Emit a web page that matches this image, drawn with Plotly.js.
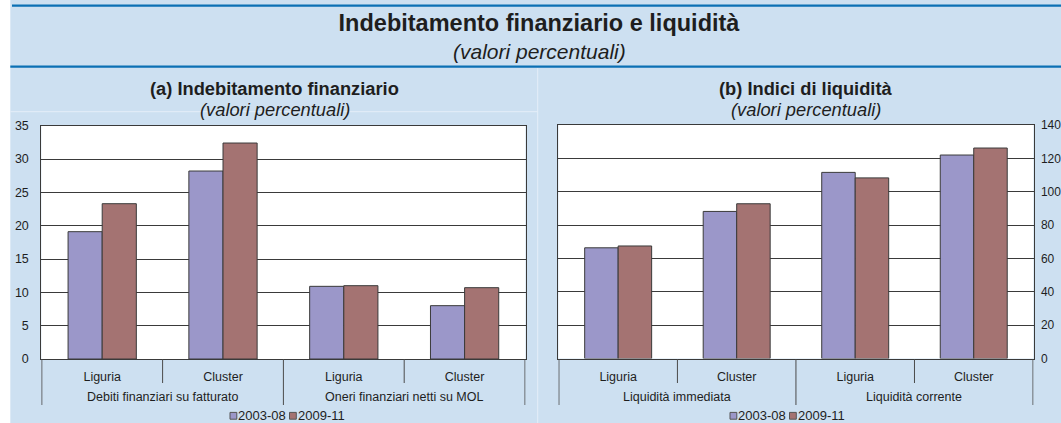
<!DOCTYPE html>
<html><head><meta charset="utf-8">
<script src="https://cdn.plot.ly/plotly-3.0.1.min.js"></script>
<style>html,body{margin:0;padding:0;background:#fff;overflow:hidden;}#chart{width:1061px;height:423px;}</style>
</head><body><div id="chart"></div>
<script>
// ---- data ----
const mainTitle = "Indebitamento finanziario e liquidità";
const mainSubtitle = "(valori percentuali)";
const titleA = "(a) Indebitamento finanziario";
const titleB = "(b) Indici di liquidità";
const panelSubtitle = "(valori percentuali)";
const seriesNames = ["2003-08", "2009-11"];
const subCategories = ["Liguria", "Cluster"];
const groupsA = ["Debiti finanziari su fatturato", "Oneri finanziari netti su MOL"];
const groupsB = ["Liquidità immediata", "Liquidità corrente"];
const a2003 = [19.1, 28.2, 10.9, 8.0];
const a2009 = [23.3, 32.4, 11.0, 10.7];
const b2003 = [66.4, 88.2, 111.6, 122.0];
const b2009 = [67.5, 92.8, 108.3, 126.2];
const yTicksA = [0, 5, 10, 15, 20, 25, 30, 35];
const yTicksB = [0, 20, 40, 60, 80, 100, 120, 140];

// ---- styling ----
const W = 1061, H = 423;
const px = v => v / W, py = v => 1 - v / H;
const FONT = "Liberation Sans, Arial, sans-serif";
const TXT = "#1e1e1e";
const BG = "#cde0f1";
const COLORS = ["#9b97c9", "#a47372"];
const LINE = "#3a3a3a";

function keys(groups) {
  const k = [];
  groups.forEach(g => subCategories.forEach(s => k.push(g + "|" + s)));
  return k;
}
function labels(groups) {
  const t = [];
  groups.forEach(() => subCategories.forEach(s => t.push(s)));
  return t;
}
const kA = keys(groupsA), kB = keys(groupsB);

function bar(x, y, i, xa, ya) {
  return {type: "bar", x: x, y: y, name: seriesNames[i], xaxis: xa, yaxis: ya, showlegend: false,
    marker: {color: COLORS[i], line: {color: LINE, width: 1}}, hoverinfo: "y"};
}
const traces = [
  bar(kA, a2003, 0, "x", "y"), bar(kA, a2009, 1, "x", "y"),
  bar(kB, b2003, 0, "x2", "y2"), bar(kB, b2009, 1, "x2", "y2")
];

const xAxisBase = {
  type: "category", showgrid: false, zeroline: false, showline: true, mirror: true,
  linecolor: LINE, linewidth: 1, ticks: "", tickfont: {family: FONT, size: 12.5, color: TXT},
  ticklabelstandoff: 6, fixedrange: true
};
const yAxisBase = {
  zeroline: false, showline: true, mirror: true, linecolor: LINE, linewidth: 1,
  showgrid: true, gridcolor: LINE, gridwidth: 1, ticks: "",
  tickfont: {family: FONT, size: 12.5, color: TXT}, ticklabelstandoff: 9, fixedrange: true
};

const shapes = [];
// white strip at the very left
shapes.push({type: "rect", xref: "paper", yref: "paper", x0: 0, x1: px(10.3), y0: 0, y1: 1,
  fillcolor: "#ffffff", line: {width: 0}, layer: "below"});
// blue rules
shapes.push({type: "line", xref: "paper", yref: "paper", x0: px(12), x1: 1, y0: py(5.7), y1: py(5.7),
  line: {color: "#0b70b4", width: 2.2}});
shapes.push({type: "line", xref: "paper", yref: "paper", x0: px(10.3), x1: 1, y0: py(66.7), y1: py(66.7),
  line: {color: "#0b70b4", width: 2.2}});
// faint panel frame lines
shapes.push({type: "line", xref: "paper", yref: "paper", x0: px(10.3), x1: px(537.7), y0: py(111.7), y1: py(111.7),
  line: {color: "#e4eef8", width: 1}, layer: "below"});
shapes.push({type: "line", xref: "paper", yref: "paper", x0: px(537.7), x1: px(537.7), y0: 0, y1: py(68),
  line: {color: "#e4eef8", width: 1}, layer: "below"});
// category dividers
function dividers(xref, n) {
  for (let i = 0; i <= n; i++) {
    const long = (i % subCategories.length === 0);
    shapes.push({type: "line", xref: xref, yref: "paper", x0: i - 0.5, x1: i - 0.5,
      y0: py(359), y1: long ? py(405) : py(383), line: {color: "#4a4a4a", width: 1}});
  }
}
dividers("x", kA.length);
dividers("x2", kB.length);

const annotations = [
  {text: mainSubtitle, xref: "paper", yref: "paper", x: px(539), y: py(52), xanchor: "center", yanchor: "middle",
   showarrow: false, font: {family: FONT, size: 21, color: TXT, style: "italic"}},
  {text: "<b>" + titleA + "</b>", xref: "paper", yref: "paper", x: px(274), y: py(88.5), xanchor: "center", yanchor: "middle",
   showarrow: false, font: {family: FONT, size: 18.3, color: TXT}},
  {text: panelSubtitle, xref: "paper", yref: "paper", x: px(274.5), y: py(110), xanchor: "center", yanchor: "middle",
   showarrow: false, font: {family: FONT, size: 18.3, color: TXT, style: "italic"}},
  {text: "<b>" + titleB + "</b>", xref: "paper", yref: "paper", x: px(805.5), y: py(88.5), xanchor: "center", yanchor: "middle",
   showarrow: false, font: {family: FONT, size: 18.3, color: TXT}},
  {text: panelSubtitle, xref: "paper", yref: "paper", x: px(806), y: py(110), xanchor: "center", yanchor: "middle",
   showarrow: false, font: {family: FONT, size: 18.3, color: TXT, style: "italic"}}
];
function groupLabels(xref, groups) {
  groups.forEach((g, gi) => {
    const c = gi * subCategories.length + (subCategories.length - 1) / 2;
    annotations.push({text: g, xref: xref, yref: "paper", x: c, y: py(397), xanchor: "center", yanchor: "middle",
      showarrow: false, font: {family: FONT, size: 12.5, color: TXT}});
  });
}
groupLabels("x", groupsA);
groupLabels("x2", groupsB);

// legends (one under each panel): square swatch + label
function legend(startX) {
  const itemStep = 59.5, sq = 6.8, yc = 415.8;
  seriesNames.forEach((n, i) => {
    const x0 = startX + i * itemStep;
    shapes.push({type: "rect", xref: "paper", yref: "paper", x0: px(x0), x1: px(x0 + sq),
      y0: py(yc + sq / 2), y1: py(yc - sq / 2), fillcolor: COLORS[i], line: {color: "#555555", width: 1}});
    annotations.push({text: n, xref: "paper", yref: "paper", x: px(x0 + sq + 0.5), y: py(yc),
      xanchor: "left", yanchor: "middle", showarrow: false, xshift: -1,
      font: {family: FONT, size: 13, color: TXT}});
  });
}
legend(230);
legend(730);

const layout = {
  width: W, height: H, margin: {l: 0, r: 0, t: 0, b: 0, pad: 0, autoexpand: false},
  paper_bgcolor: BG, plot_bgcolor: "#ffffff",
  font: {family: FONT, color: TXT},
  title: {text: "<b>" + mainTitle + "</b>", x: px(539), xanchor: "center", y: py(23), yanchor: "middle",
    font: {family: FONT, size: 23.5, color: TXT}},
  barmode: "group", bargap: 0.435, bargroupgap: 0,
  showlegend: false,
  xaxis: Object.assign({}, xAxisBase, {domain: [px(41.3), px(525.5)], anchor: "y",
    tickvals: kA, ticktext: labels(groupsA)}),
  yaxis: Object.assign({}, yAxisBase, {anchor: "x", range: [0, 35], tickvals: yTicksA,
    domain: [py(359), py(125.7)]}),
  xaxis2: Object.assign({}, xAxisBase, {domain: [px(558.4), px(1033.5)], anchor: "y2",
    tickvals: kB, ticktext: labels(groupsB)}),
  yaxis2: Object.assign({}, yAxisBase, {anchor: "x2", side: "right", range: [0, 140], tickvals: yTicksB,
    domain: [py(358.6), py(125)], ticklabelstandoff: 4, tickfont: {family: FONT, size: 12, color: TXT}}),
  shapes: shapes,
  annotations: annotations
};

Plotly.newPlot("chart", traces, layout, {displayModeBar: false, staticPlot: true});
</script>
</body></html>
